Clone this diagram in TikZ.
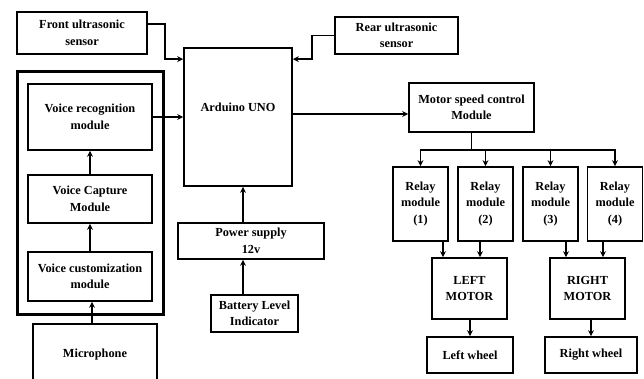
\documentclass[tikz,border=0pt]{standalone}
\usepackage{fontspec}
\setmainfont{Liberation Serif}
\usetikzlibrary{arrows.meta}
\tikzset{
  box/.style={draw, line width=1.7pt, rectangle, align=center, inner sep=1pt,
    font=\bfseries\fontsize{12.3}{16.5}\selectfont},
  frame/.style={draw, line width=3pt, rectangle, inner sep=0pt},
  arr/.style={line width=1.7pt, -{Stealth[length=6pt,width=6pt]}},
  ln/.style={line width=1.7pt}
}
\begin{document}
\begin{tikzpicture}[x=1pt,y=-1pt]
\clip (0,0) rectangle (644,379);
\fill[white] (0,0) rectangle (644,379);
% left column
\node[frame, minimum width=146pt, minimum height=242pt] (frm) at (90,193) {};
\node[box, minimum width=124pt, minimum height=66pt] (vr) at (90,117) {Voice recognition\\module};
\node[box, minimum width=124pt, minimum height=48pt] (vc) at (90,199) {Voice Capture\\Module};
\node[box, minimum width=124pt, minimum height=49pt] (vcu) at (90,276.5) {Voice customization\\module};
\node[box, minimum width=124pt, minimum height=62pt] (mic) at (95,355) {Microphone};
\node[box, minimum width=130pt, minimum height=42pt] (front) at (82,33) {Front ultrasonic\\sensor};
% centre
\node[box, minimum width=108pt, minimum height=138pt, text depth=20pt] (ard) at (238,117) {Arduino UNO};
\node[box, minimum width=146pt, minimum height=36pt] (pw) at (251,241) {Power supply\\12v};
\node[box, minimum width=87pt, minimum height=37pt] (bat) at (254.5,313.5) {Battery Level\\Indicator};
\node[box, minimum width=123pt, minimum height=37pt] (rear) at (396.5,35.5) {Rear ultrasonic\\sensor};
% right
\node[box, minimum width=125pt, minimum height=49pt] (msc) at (471.5,107.5) {Motor speed control\\Module};
\node[box, minimum width=55pt, minimum height=74pt] (r1) at (420.5,204) {Relay\\module\\(1)};
\node[box, minimum width=55pt, minimum height=74pt] (r2) at (485.5,204) {Relay\\module\\(2)};
\node[box, minimum width=55pt, minimum height=74pt] (r3) at (550.5,204) {Relay\\module\\(3)};
\node[box, minimum width=55pt, minimum height=74pt] (r4) at (615,204) {Relay\\module\\(4)};
\node[box, minimum width=75pt, minimum height=61pt] (lm) at (469.5,288.5) {LEFT\\MOTOR};
\node[box, minimum width=75pt, minimum height=61pt] (rm) at (587.5,288.5) {RIGHT\\MOTOR};
\node[box, minimum width=86pt, minimum height=36pt] (lw) at (470,355) {Left wheel};
\node[box, minimum width=92pt, minimum height=36pt] (rw) at (591,355) {Right wheel};
% connectors
\coordinate (fk) at (165,24);
\coordinate (rk) at (312,35.5);
\coordinate (br) at (471.5,150);
\draw[arr] ([yshift=9pt]front.east) -- (fk) |- ([yshift=-12pt]ard.north west);
\draw[arr] (rear.west) -- (rk) |- ([yshift=-12pt]ard.north east);
\draw[arr] (vr.east) -- (ard.west);
\draw[arr] (vc.north) -- (vr.south);
\draw[arr] (vcu.north) -- (vc.south);
\draw[arr] ([xshift=-3pt]mic.north) -- ([xshift=2pt]vcu.south);
\draw[arr] ([xshift=-8pt]pw.north) -- ([xshift=5pt]ard.south);
\draw[arr] ([xshift=-11.5pt]bat.north) -- ([xshift=-8pt]pw.south);
\draw[arr] ([yshift=3pt]ard.east) -- ([yshift=3pt]ard.east -| msc.west);
\draw[ln] (msc.south) -- (br);
\draw[arr] (br) -| (r1.north);
\draw[arr] (br) -| (r2.north);
\draw[arr] (br) -| (r3.north);
\draw[arr] (br) -| (r4.north);
\draw[arr] ([xshift=-26.5pt]lm.north |- r1.south) -- ([xshift=-26.5pt]lm.north);
\draw[arr] ([xshift=10.5pt]lm.north |- r2.south) -- ([xshift=10.5pt]lm.north);
\draw[arr] ([xshift=-21.5pt]rm.north |- r3.south) -- ([xshift=-21.5pt]rm.north);
\draw[arr] ([xshift=15.5pt]rm.north |- r4.south) -- ([xshift=15.5pt]rm.north);
\draw[arr] (lm.south) -- (lw.north |- lm.south) -- (lw.north);
\draw[arr] (rw.north |- rm.south) -- (rw.north);
\end{tikzpicture}
\end{document}
